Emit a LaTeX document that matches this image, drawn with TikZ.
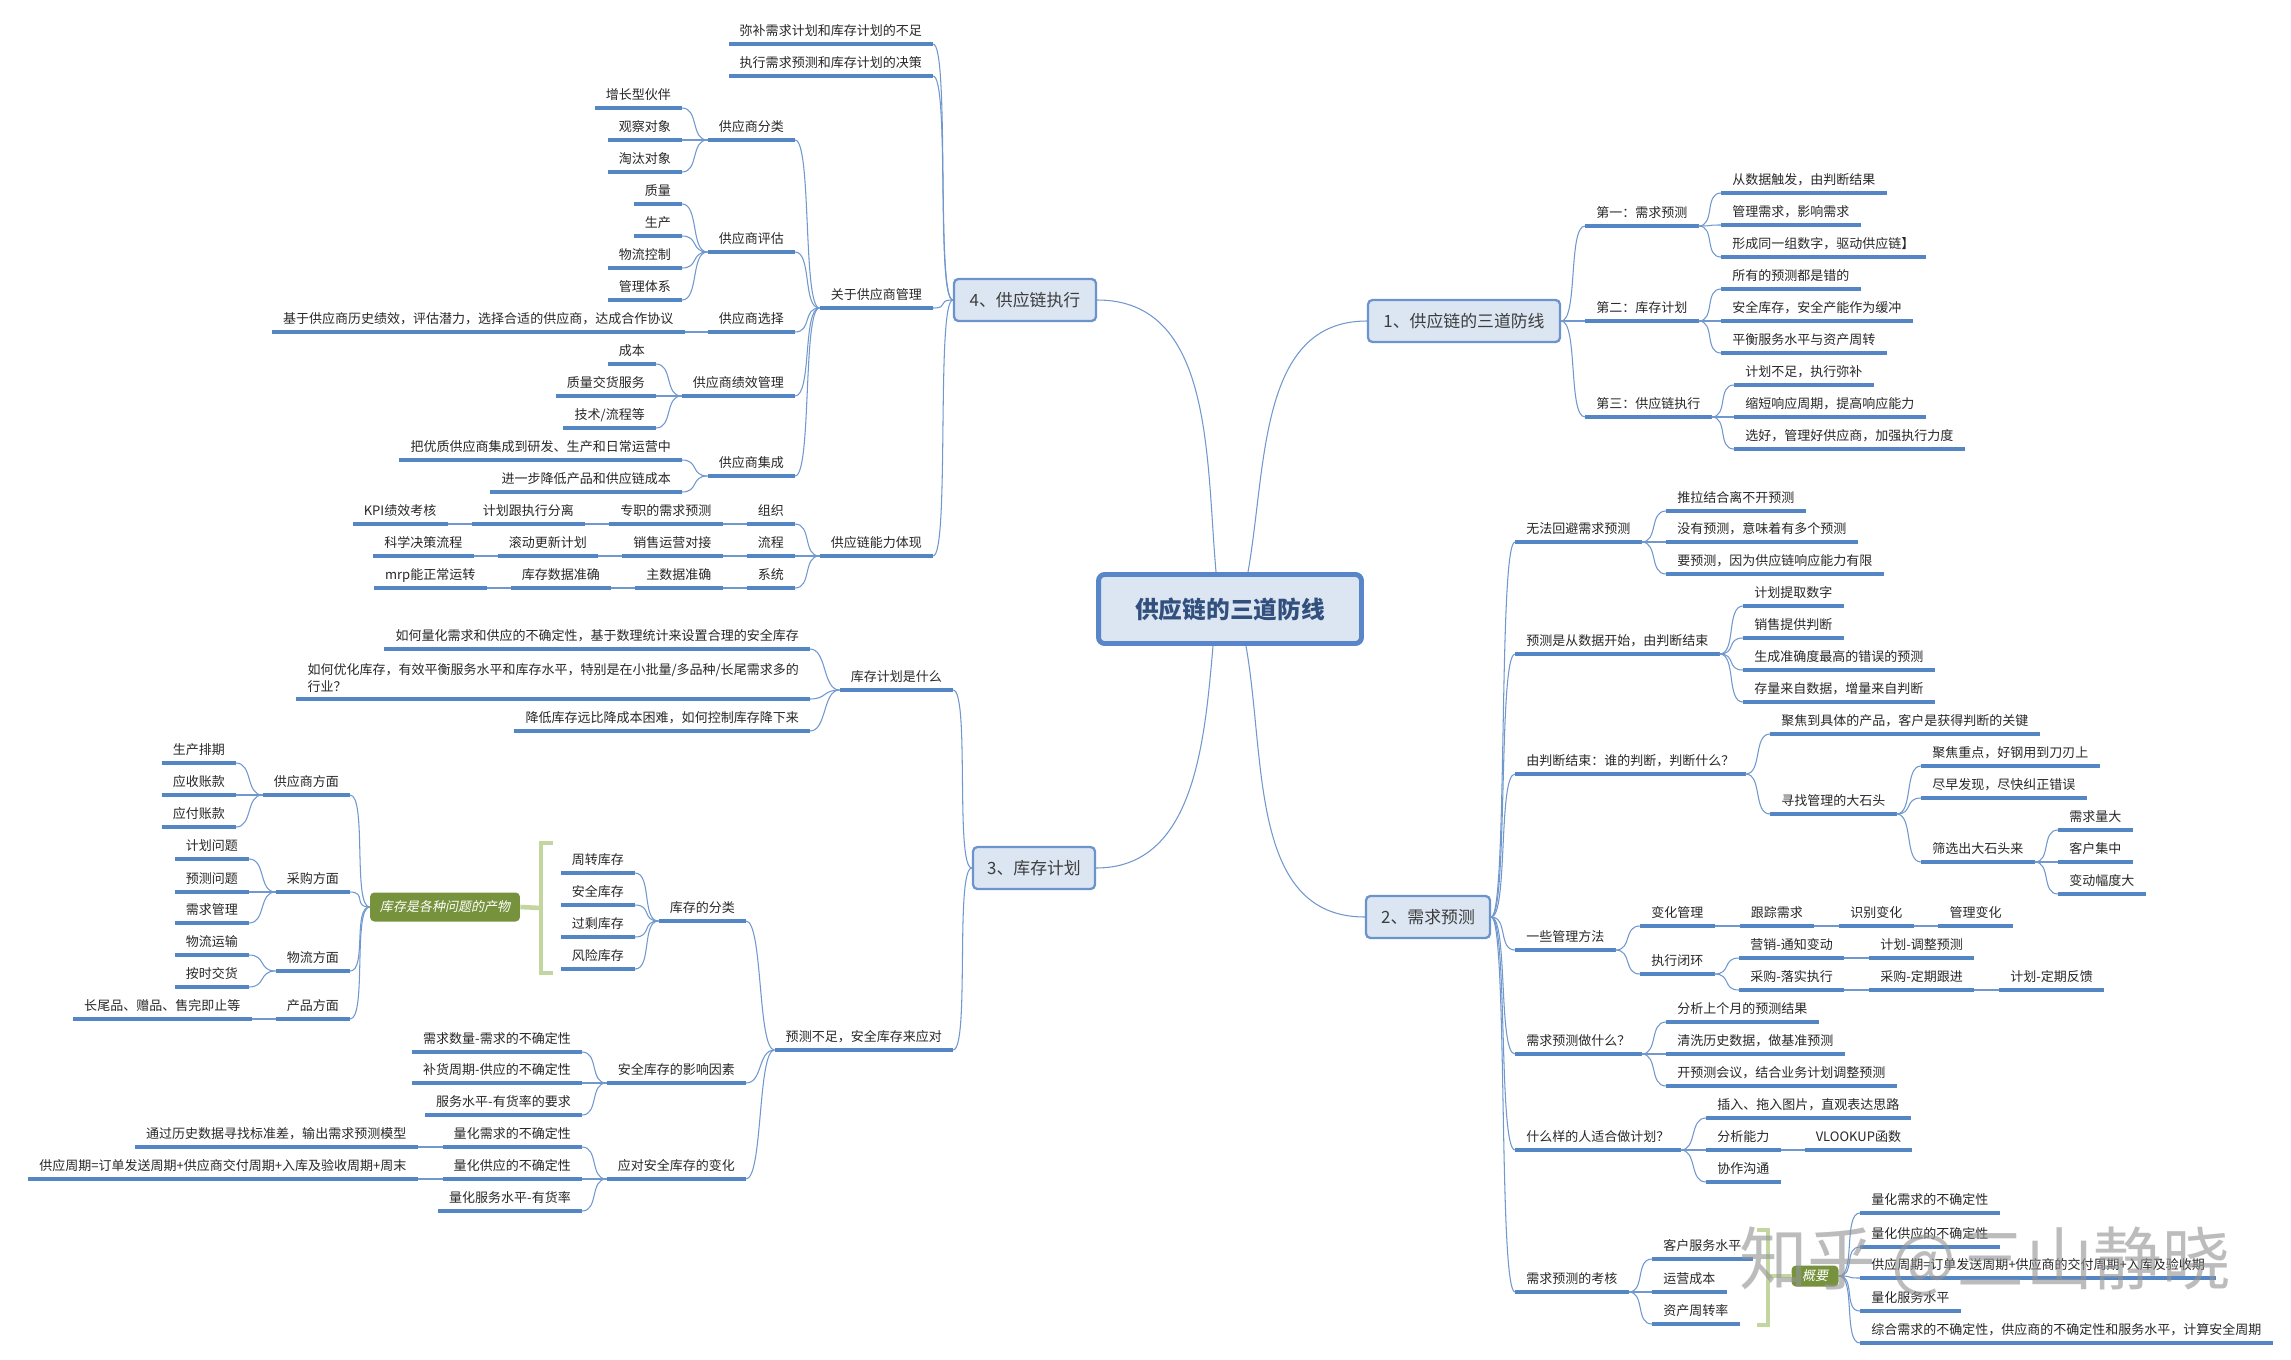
\documentclass[tikz,border=0pt]{standalone}
\usepackage{fontspec}
\setmainfont{Noto Sans CJK SC}
\newfontfamily\slfont{Noto Sans CJK SC}[FakeSlant=0.2]
\usetikzlibrary{positioning}

\definecolor{ulblue}{RGB}{84,134,196}
\definecolor{lnblue}{RGB}{112,152,206}
\definecolor{boxfill}{RGB}{220,230,242}
\definecolor{boxline}{RGB}{108,148,204}
\definecolor{rootline}{RGB}{88,134,200}
\definecolor{roottext}{RGB}{50,80,125}
\definecolor{sumgreen}{RGB}{118,146,60}
\definecolor{brgreen}{RGB}{196,214,160}
\definecolor{txt}{RGB}{40,40,40}

\newcommand\leaffont{\fontsize{7.4pt}{9.6pt}\selectfont}

\begin{document}
\begin{tikzpicture}[
    x=0.02cm, y=-0.02cm,
    topic/.style={font=\leaffont, text=txt, inner xsep=6.2pt, inner ysep=3.6pt, text height=6.5pt, text depth=0.9pt,
        append after command={(\tikzlastnode.south west) edge[uline] (\tikzlastnode.south east)}},
    rt/.style={topic, anchor=south west},
    lt/.style={topic, anchor=south east},
    uline/.style={draw=ulblue, line width=2.2pt},
    link/.style={draw=lnblue, line width=0.6pt},
    rlink/.style={link, to path={.. controls +(17,0) and +(-17,0) .. (\tikztotarget)}},
    llink/.style={link, to path={.. controls +(-17,0) and +(17,0) .. (\tikztotarget)}},
    trunk/.style={draw=lnblue, line width=0.6pt},
    rootbox/.style={rectangle, rounded corners=3.5pt, fill=boxfill, draw=rootline, line width=2.8pt, minimum width=5.26cm, minimum height=1.38cm, text=roottext, font=\fontsize{13.5pt}{16pt}\selectfont\bfseries},
    brbox/.style={rectangle, rounded corners=2.5pt, fill=boxfill, draw=boxline, line width=1.3pt, minimum height=0.84cm, text=txt!90, font=\fontsize{9.6pt}{11pt}\selectfont},
    sumbox/.style={rectangle, rounded corners=2.5pt, fill=sumgreen, text=white, inner sep=2pt, font=\slfont\leaffont},
    brk/.style={draw=brgreen, line width=2.6pt},
    wmark/.style={font=\fontsize{39pt}{42pt}\selectfont, text=black!42, opacity=0.62}
]
\fill[white] (0,0) rectangle (2291,1359);
\useasboundingbox (0,0) rectangle (2291,1359);

% === Centre and main branches ===
\node[rootbox] (root) at (1230,609) {供应链的三道防线};
\node[brbox, minimum width=3.84cm] (br1) at (1464,321) {1、供应链的三道防线};
\node[brbox, minimum width=2.48cm] (br2) at (1428,917) {2、需求预测};
\node[brbox, minimum width=2.44cm] (br3) at (1034,868) {3、库存计划};
\node[brbox, minimum width=2.84cm] (br4) at (1025,300) {4、供应链执行};

% === 1: three lines of defence ===
\node[rt] (d1) at (1585,226) {第一：需求预测};
\node[rt] (d2) at (1585,321) {第二：库存计划};
\node[rt] (d3) at (1585,417) {第三：供应链执行};
\node[rt] (d1a) at (1721,193) {从数据触发，由判断结果};
\node[rt] (d1b) at (1721,225) {管理需求，影响需求};
\node[rt] (d1c) at (1721,257) {形成同一组数字，驱动供应链】};
\node[rt] (d2a) at (1721,289) {所有的预测都是错的};
\node[rt] (d2b) at (1721,321) {安全库存，安全产能作为缓冲};
\node[rt] (d2c) at (1721,353) {平衡服务水平与资产周转};
\node[rt] (d3a) at (1734,385) {计划不足，执行弥补};
\node[rt] (d3b) at (1734,417) {缩短响应周期，提高响应能力};
\node[rt] (d3c) at (1734,449) {选好，管理好供应商，加强执行力度};

% === 2: demand forecast ===
\node[rt] (f1) at (1515,542) {无法回避需求预测};
\node[rt] (f2) at (1515,654) {预测是从数据开始，由判断结束};
\node[rt] (f3) at (1515,774) {由判断结束：谁的判断，判断什么？};
\node[rt] (f4) at (1515,950) {一些管理方法};
\node[rt] (f5) at (1515,1054) {需求预测做什么？};
\node[rt] (f6) at (1515,1150) {什么样的人适合做计划？};
\node[rt] (f7) at (1515,1292) {需求预测的考核};

\node[rt] (f1a) at (1666,511) {推拉结合离不开预测};
\node[rt] (f1b) at (1666,542) {没有预测，意味着有多个预测};
\node[rt] (f1c) at (1666,574) {要预测，因为供应链响应能力有限};

\node[rt] (f2a) at (1743,606) {计划提取数字};
\node[rt] (f2b) at (1743,638) {销售提供判断};
\node[rt] (f2c) at (1743,670) {生成准确度最高的错误的预测};
\node[rt] (f2d) at (1743,702) {存量来自数据，增量来自判断};

\node[rt] (f3a) at (1770,734) {聚焦到具体的产品，客户是获得判断的关键};
\node[rt] (f3b) at (1770,814) {寻找管理的大石头};
\node[rt] (f3b1) at (1921,766) {聚焦重点，好钢用到刀刃上};
\node[rt] (f3b2) at (1921,798) {尽早发现，尽快纠正错误};
\node[rt] (f3b3) at (1921,862) {筛选出大石头来};
\node[rt] (f3c1) at (2058,830) {需求量大};
\node[rt] (f3c2) at (2058,862) {客户集中};
\node[rt] (f3c3) at (2058,894) {变动幅度大};

\node[rt] (f4a) at (1640,926) {变化管理};
\node[rt, right=0.5cm of f4a] (f4a1) {跟踪需求};
\node[rt, right=0.5cm of f4a1] (f4a2) {识别变化};
\node[rt, right=0.5cm of f4a2] (f4a3) {管理变化};
\node[rt] (f4b) at (1640,974) {执行闭环};
\node[rt] (f4b1) at (1739,958) {营销-通知变动};
\node[rt, right=0.5cm of f4b1] (f4b2) {计划-调整预测};
\node[rt] (f4b3) at (1739,990) {采购-落实执行};
\node[rt, right=0.5cm of f4b3] (f4b4) {采购-定期跟进};
\node[rt, right=0.5cm of f4b4] (f4b5) {计划-定期反馈};

\node[rt] (f5a) at (1666,1022) {分析上个月的预测结果};
\node[rt] (f5b) at (1666,1054) {清洗历史数据，做基准预测};
\node[rt] (f5c) at (1666,1086) {开预测会议，结合业务计划调整预测};

\node[rt] (f6a) at (1706,1118) {插入、拖入图片，直观表达思路};
\node[rt] (f6b) at (1706,1150) {分析能力};
\node[rt, right=0.48cm of f6b] (f6b1) {VLOOKUP函数};
\node[rt] (f6c) at (1706,1182) {协作沟通};

\node[rt] (f7a) at (1652,1259) {客户服务水平};
\node[rt] (f7b) at (1652,1292) {运营成本};
\node[rt] (f7c) at (1652,1324) {资产周转率};

\node[sumbox, minimum width=0.94cm, minimum height=0.42cm] (sum2) at (1815,1276) {概要};
\node[rt] (g1) at (1860,1213) {量化需求的不确定性};
\node[rt] (g2) at (1860,1247) {量化供应的不确定性};
\node[rt] (g3) at (1860,1278) {供应周期=订单发送周期+供应商的交付周期+入库及验收期};
\node[rt] (g4) at (1860,1311) {量化服务水平};
\node[rt] (g5) at (1860,1343) {综合需求的不确定性，供应商的不确定性和服务水平，计算安全周期};

% === 3: inventory planning ===
\node[lt] (k1) at (953,690) {库存计划是什么};
\node[lt] (k2) at (953,1050) {预测不足，安全库存来应对};
\node[lt] (k1a) at (810,649) {如何量化需求和供应的不确定性，基于数理统计来设置合理的安全库存};
\node[lt, align=left, text height=, text depth=] (k1b) at (810,699) {如何优化库存，有效平衡服务水平和库存水平，特别是在小批量/多品种/长尾需求多的\\行业？};
\node[lt] (k1c) at (810,731) {降低库存远比降成本困难，如何控制库存降下来};

\node[lt] (k2a) at (746,921) {库存的分类};
\node[lt] (k2b) at (746,1083) {安全库存的影响因素};
\node[lt] (k2c) at (746,1179) {应对安全库存的变化};

\node[lt] (m1) at (635,873) {周转库存};
\node[lt] (m2) at (635,905) {安全库存};
\node[lt] (m3) at (635,937) {过剩库存};
\node[lt] (m4) at (635,969) {风险库存};

\node[sumbox, minimum width=3.0cm, minimum height=0.58cm] (sum1) at (445,907) {库存是各种问题的产物};
\node[lt] (p1) at (350,795) {供应商方面};
\node[lt] (p2) at (350,892) {采购方面};
\node[lt] (p3) at (350,971) {物流方面};
\node[lt] (p4) at (350,1019) {产品方面};
\node[lt] (p1a) at (236,763) {生产排期};
\node[lt] (p1b) at (236,795) {应收账款};
\node[lt] (p1c) at (236,827) {应付账款};
\node[lt] (p2a) at (249,859) {计划问题};
\node[lt] (p2b) at (249,892) {预测问题};
\node[lt] (p2c) at (249,923) {需求管理};
\node[lt] (p3a) at (249,955) {物流运输};
\node[lt] (p3b) at (249,987) {按时交货};
\node[lt, left=0.48cm of p4] (p4a) {长尾品、赠品、售完即止等};

\node[lt] (q1) at (582,1052) {需求数量-需求的不确定性};
\node[lt] (q2) at (582,1083) {补货周期-供应的不确定性};
\node[lt] (q3) at (582,1115) {服务水平-有货率的要求};
\node[lt] (r1) at (582,1147) {量化需求的不确定性};
\node[lt, left=0.5cm of r1] (r1a) {通过历史数据寻找标准差，输出需求预测模型};
\node[lt] (r2) at (582,1179) {量化供应的不确定性};
\node[lt, left=0.5cm of r2] (r2a) {供应周期=订单发送周期+供应商交付周期+入库及验收周期+周末};
\node[lt] (r3) at (582,1211) {量化服务水平-有货率};

% === 4: supply chain execution ===
\node[lt] (s1) at (933,44) {弥补需求计划和库存计划的不足};
\node[lt] (s2) at (933,76) {执行需求预测和库存计划的决策};
\node[lt] (s3) at (933,308) {关于供应商管理};
\node[lt] (s4) at (933,556) {供应链能力体现};

\node[lt] (t1) at (795,140) {供应商分类};
\node[lt] (t2) at (795,252) {供应商评估};
\node[lt] (t3) at (795,332) {供应商选择};
\node[lt] (t4) at (795,396) {供应商绩效管理};
\node[lt] (t5) at (795,476) {供应商集成};
\node[lt] (t1a) at (682,108) {增长型伙伴};
\node[lt] (t1b) at (682,140) {观察对象};
\node[lt] (t1c) at (682,172) {淘汰对象};
\node[lt] (t2a) at (682,204) {质量};
\node[lt] (t2b) at (682,236) {生产};
\node[lt] (t2c) at (682,268) {物流控制};
\node[lt] (t2d) at (682,300) {管理体系};
\node[lt, left=0.46cm of t3] (t3a) {基于供应商历史绩效，评估潜力，选择合适的供应商，达成合作协议};
\node[lt] (t4a) at (656,364) {成本};
\node[lt] (t4b) at (656,396) {质量交货服务};
\node[lt] (t4c) at (656,428) {技术/流程等};
\node[lt] (t5a) at (682,460) {把优质供应商集成到研发、生产和日常运营中};
\node[lt] (t5b) at (682,492) {进一步降低产品和供应链成本};

\node[lt] (u1) at (795,524) {组织};
\node[lt, left=0.48cm of u1] (u1a) {专职的需求预测};
\node[lt, left=0.48cm of u1a] (u1b) {计划跟执行分离};
\node[lt, left=0.48cm of u1b] (u1c) {KPI绩效考核};
\node[lt] (u2) at (795,556) {流程};
\node[lt, left=0.48cm of u2] (u2a) {销售运营对接};
\node[lt, left=0.48cm of u2a] (u2b) {滚动更新计划};
\node[lt, left=0.48cm of u2b] (u2c) {科学决策流程};
\node[lt] (u3) at (795,588) {系统};
\node[lt, left=0.48cm of u3] (u3a) {主数据准确};
\node[lt, left=0.48cm of u3a] (u3b) {库存数据准确};
\node[lt, left=0.48cm of u3b] (u3c) {mrp能正常运转};

% === Summary brackets ===
\coordinate (bkL) at (541,908);
\draw[brk] (553,843) -- (541,843) -- (541,973) -- (553,973);
\draw[brk] (bkL) -- (sum1.east);
\coordinate (bkR) at (1768,1276);
\draw[brk] (1757,1230) -- (1768,1230) -- (1768,1325) -- (1757,1325);
\draw[brk] (bkR) -- (sum2.west);

% === Connectors ===
\draw[trunk] ([xshift=-0.28cm]root.north) to[out=95,in=0] (br4.east);
\draw[trunk] ([xshift=0.36cm]root.north) to[out=80,in=180] (br1.west);
\draw[trunk] ([xshift=-0.34cm]root.south) to[out=-95,in=0] (br3.east);
\draw[trunk] ([xshift=0.32cm]root.south) to[out=-80,in=180] (br2.west);

\path (br1.east) edge[rlink] (d1.south west) edge[rlink] (d2.south west) edge[rlink] (d3.south west);
\path (d1.south east) edge[rlink] (d1a.south west) edge[rlink] (d1b.south west) edge[rlink] (d1c.south west);
\path (d2.south east) edge[rlink] (d2a.south west) edge[rlink] (d2b.south west) edge[rlink] (d2c.south west);
\path (d3.south east) edge[rlink] (d3a.south west) edge[rlink] (d3b.south west) edge[rlink] (d3c.south west);

\path (br2.east) edge[rlink] (f1.south west) edge[rlink] (f2.south west) edge[rlink] (f3.south west)
    edge[rlink] (f4.south west) edge[rlink] (f5.south west) edge[rlink] (f6.south west) edge[rlink] (f7.south west);
\path (f1.south east) edge[rlink] (f1a.south west) edge[rlink] (f1b.south west) edge[rlink] (f1c.south west);
\path (f2.south east) edge[rlink] (f2a.south west) edge[rlink] (f2b.south west) edge[rlink] (f2c.south west) edge[rlink] (f2d.south west);
\path (f3.south east) edge[rlink] (f3a.south west) edge[rlink] (f3b.south west);
\path (f3b.south east) edge[rlink] (f3b1.south west) edge[rlink] (f3b2.south west) edge[rlink] (f3b3.south west);
\path (f3b3.south east) edge[rlink] (f3c1.south west) edge[rlink] (f3c2.south west) edge[rlink] (f3c3.south west);
\path (f4.south east) edge[rlink] (f4a.south west) edge[rlink] (f4b.south west);
\path (f4a.south east) edge[rlink] (f4a1.south west);
\path (f4a1.south east) edge[rlink] (f4a2.south west);
\path (f4a2.south east) edge[rlink] (f4a3.south west);
\path (f4b.south east) edge[rlink] (f4b1.south west) edge[rlink] (f4b3.south west);
\path (f4b1.south east) edge[rlink] (f4b2.south west);
\path (f4b3.south east) edge[rlink] (f4b4.south west);
\path (f4b4.south east) edge[rlink] (f4b5.south west);
\path (f5.south east) edge[rlink] (f5a.south west) edge[rlink] (f5b.south west) edge[rlink] (f5c.south west);
\path (f6.south east) edge[rlink] (f6a.south west) edge[rlink] (f6b.south west) edge[rlink] (f6c.south west);
\path (f6b.south east) edge[rlink] (f6b1.south west);
\path (f7.south east) edge[rlink] (f7a.south west) edge[rlink] (f7b.south west) edge[rlink] (f7c.south west);
\path (sum2.east) edge[rlink] (g1.south west) edge[rlink] (g2.south west) edge[rlink] (g3.south west)
    edge[rlink] (g4.south west) edge[rlink] (g5.south west);

\path (br3.west) edge[llink] (k1.south east) edge[llink] (k2.south east);
\path (k1.south west) edge[llink] (k1a.south east) edge[llink] (k1b.south east) edge[llink] (k1c.south east);
\path (k2.south west) edge[llink] (k2a.south east) edge[llink] (k2b.south east) edge[llink] (k2c.south east);
\path (k2a.south west) edge[llink] (m1.south east) edge[llink] (m2.south east) edge[llink] (m3.south east) edge[llink] (m4.south east);
\path (sum1.west) edge[llink] (p1.south east) edge[llink] (p2.south east) edge[llink] (p3.south east) edge[llink] (p4.south east);
\path (p1.south west) edge[llink] (p1a.south east) edge[llink] (p1b.south east) edge[llink] (p1c.south east);
\path (p2.south west) edge[llink] (p2a.south east) edge[llink] (p2b.south east) edge[llink] (p2c.south east);
\path (p3.south west) edge[llink] (p3a.south east) edge[llink] (p3b.south east);
\path (p4.south west) edge[llink] (p4a.south east);
\path (k2b.south west) edge[llink] (q1.south east) edge[llink] (q2.south east) edge[llink] (q3.south east);
\path (k2c.south west) edge[llink] (r1.south east) edge[llink] (r2.south east) edge[llink] (r3.south east);
\path (r1.south west) edge[llink] (r1a.south east);
\path (r2.south west) edge[llink] (r2a.south east);

\path (br4.west) edge[llink] (s1.south east) edge[llink] (s2.south east) edge[llink] (s3.south east) edge[llink] (s4.south east);
\path (s3.south west) edge[llink] (t1.south east) edge[llink] (t2.south east) edge[llink] (t3.south east)
    edge[llink] (t4.south east) edge[llink] (t5.south east);
\path (t1.south west) edge[llink] (t1a.south east) edge[llink] (t1b.south east) edge[llink] (t1c.south east);
\path (t2.south west) edge[llink] (t2a.south east) edge[llink] (t2b.south east) edge[llink] (t2c.south east) edge[llink] (t2d.south east);
\path (t3.south west) edge[llink] (t3a.south east);
\path (t4.south west) edge[llink] (t4a.south east) edge[llink] (t4b.south east) edge[llink] (t4c.south east);
\path (t5.south west) edge[llink] (t5a.south east) edge[llink] (t5b.south east);
\path (s4.south west) edge[llink] (u1.south east) edge[llink] (u2.south east) edge[llink] (u3.south east);
\path (u1.south west) edge[llink] (u1a.south east);
\path (u1a.south west) edge[llink] (u1b.south east);
\path (u1b.south west) edge[llink] (u1c.south east);
\path (u2.south west) edge[llink] (u2a.south east);
\path (u2a.south west) edge[llink] (u2b.south east);
\path (u2b.south west) edge[llink] (u2c.south east);
\path (u3.south west) edge[llink] (u3a.south east);
\path (u3a.south west) edge[llink] (u3b.south east);
\path (u3b.south west) edge[llink] (u3c.south east);

% watermark
\node[wmark] (wm) at (1985,1262) {知乎 @三山静晓};

\end{tikzpicture}
\end{document}
